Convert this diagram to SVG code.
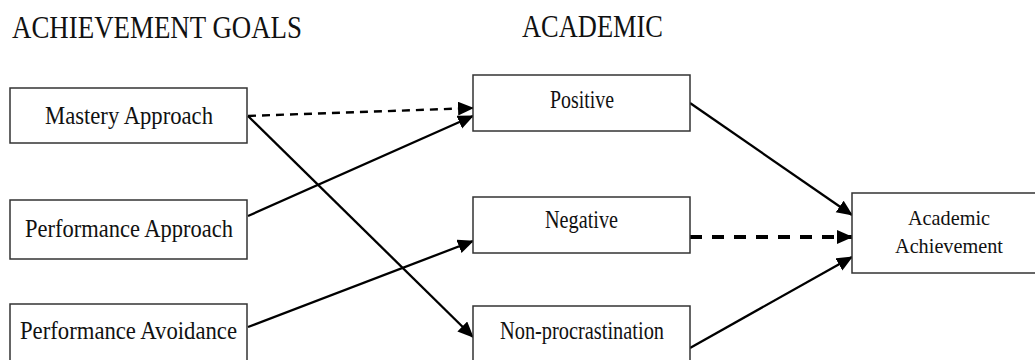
<svg xmlns="http://www.w3.org/2000/svg" width="1035" height="360" viewBox="0 0 1035 360">
<style>
.box{fill:#fff;stroke:#333;stroke-width:1.5}
text{font-family:'Liberation Serif','DejaVu Serif',serif;fill:#111}
.t{font-size:25px}
.h{font-size:31px}
.s{font-size:22px}
.c{fill:none;stroke:#000;stroke-width:2.3}
.d{stroke-dasharray:8 6}
.dt{stroke-width:4;stroke-dasharray:12 10}
</style>
<defs>
<marker id="ah" markerUnits="userSpaceOnUse" markerWidth="18" markerHeight="16" refX="15" refY="7" orient="auto">
<path d="M0,0 L16,7 L0,14 z" fill="#000"/>
</marker>
</defs>
<rect width="1035" height="360" fill="#fff"/>
<text class="h" x="12" y="38" textLength="290" lengthAdjust="spacingAndGlyphs">ACHIEVEMENT GOALS</text>
<text class="h" x="522" y="37" textLength="141" lengthAdjust="spacingAndGlyphs">ACADEMIC</text>
<g id="connectors">
<path class="c d" d="M248,116 L473,108" marker-end="url(#ah)"/>
<path class="c" d="M248,216 L473,116" marker-end="url(#ah)"/>
<path class="c" d="M248,116 L473,337" marker-end="url(#ah)"/>
<path class="c" d="M248,327 L473,241" marker-end="url(#ah)"/>
<path class="c" d="M690,103 L852,215" marker-end="url(#ah)"/>
<path class="c dt" d="M690,237 L852,237" marker-end="url(#ah)"/>
<path class="c" d="M690,348 L852,257" marker-end="url(#ah)"/>
</g>
<g id="mastery-approach">
<rect class="box" x="10" y="88" width="237" height="55"/>
<text class="t" x="45" y="124" textLength="168" lengthAdjust="spacingAndGlyphs">Mastery Approach</text>
</g>
<g id="performance-approach">
<rect class="box" x="10" y="200" width="237" height="59"/>
<text class="t" x="25" y="237" textLength="208" lengthAdjust="spacingAndGlyphs">Performance Approach</text>
</g>
<g id="performance-avoidance">
<rect class="box" x="10" y="304" width="237" height="70"/>
<text class="t" x="20" y="339" textLength="217" lengthAdjust="spacingAndGlyphs">Performance Avoidance</text>
</g>
<g id="positive">
<rect class="box" x="473" y="75" width="217" height="56"/>
<text class="t" x="550" y="108" textLength="64" lengthAdjust="spacingAndGlyphs">Positive</text>
</g>
<g id="negative">
<rect class="box" x="473" y="197" width="217" height="56"/>
<text class="t" x="545" y="228" textLength="73" lengthAdjust="spacingAndGlyphs">Negative</text>
</g>
<g id="non-procrastination">
<rect class="box" x="473" y="306" width="217" height="70"/>
<text class="t" x="500" y="339" textLength="164" lengthAdjust="spacingAndGlyphs">Non-procrastination</text>
</g>
<g id="academic-achievement">
<rect class="box" x="852" y="193" width="200" height="80"/>
<text class="s" x="908" y="225" textLength="82" lengthAdjust="spacingAndGlyphs">Academic</text>
<text class="s" x="895" y="253" textLength="108" lengthAdjust="spacingAndGlyphs">Achievement</text>
</g>
</svg>
